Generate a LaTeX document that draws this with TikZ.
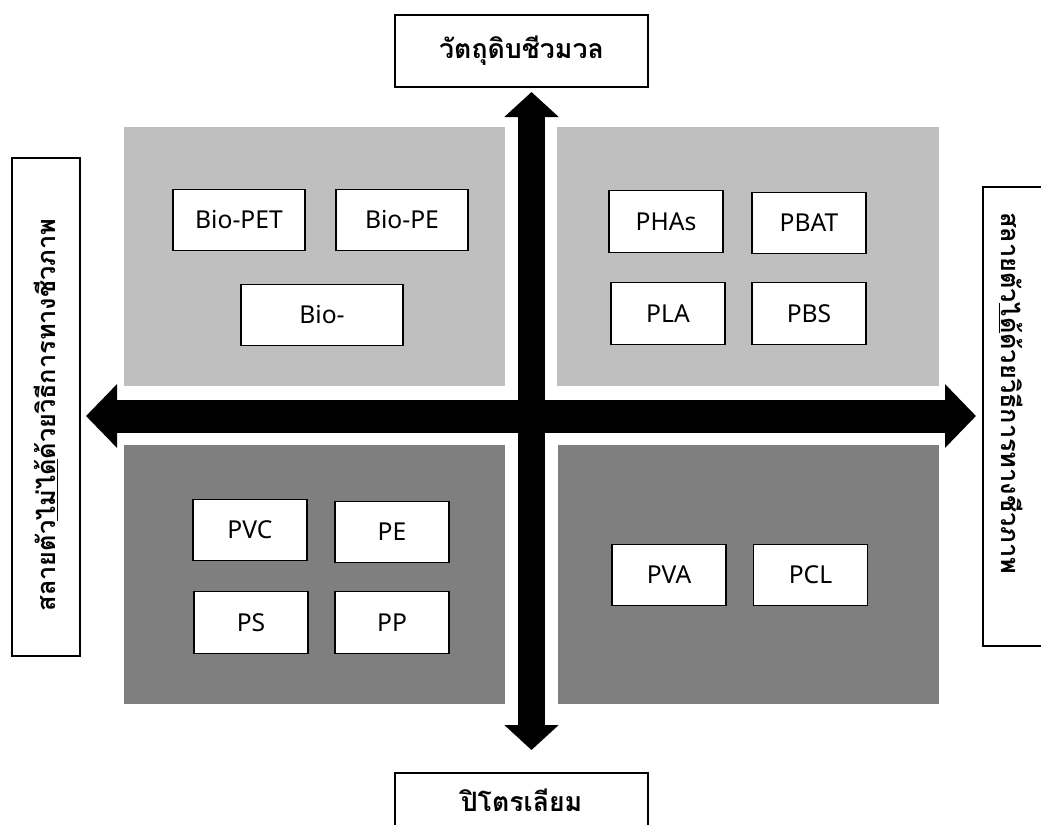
\documentclass[tikz,border=0pt]{standalone}
\usepackage{fontspec}
\setmainfont{Noto Sans}
\newfontfamily\thaifont[Script=Thai]{Loma}
\usetikzlibrary{arrows.meta}

\definecolor{quadlight}{RGB}{191,191,191}
\definecolor{quaddark}{RGB}{127,127,127}

\tikzset{
  polybox/.style={draw=black, line width=0.9pt, fill=white, inner sep=0pt,
    minimum width=85.5pt, minimum height=46pt,
    font=\fontsize{18.5}{20}\selectfont},
  framebox/.style={draw=black, line width=0.9pt, fill=white, inner sep=0pt},
  framepath/.style={draw=black, line width=0.9pt},
  thailabel/.style={inner sep=0pt, font=\thaifont\bfseries\fontsize{20}{24}\selectfont},
  sidelabel/.style={inner sep=0pt, font=\thaifont\bfseries\fontsize{19}{24}\selectfont},
  vbar/.style={line width=20.25pt,
    arrows={Triangle[length=18.75pt,width=39.75pt]-Triangle[length=18.75pt,width=39.75pt]}},
  hbar/.style={line width=24.75pt,
    arrows={Triangle[length=23.25pt,width=46.5pt]-Triangle[length=23.25pt,width=46.5pt]}},
}

\begin{document}
\begin{tikzpicture}[x=0.75pt,y=-0.75pt]
\useasboundingbox (0,0) rectangle (1041,824);
\clip (0,0) rectangle (1041,824);

% quadrant backgrounds
\fill[quadlight] (124,127) rectangle (505,386);
\fill[quadlight] (557,127) rectangle (939,386);
\fill[quaddark]  (124,445) rectangle (505,704);
\fill[quaddark]  (558,445) rectangle (939,704);

% axis arrows
\coordinate (vtop) at (531.5,92);
\coordinate (vbot) at (531.5,750);
\coordinate (hleft) at (86,416);
\coordinate (hright) at (976,416);
\draw[vbar] (vtop) -- (vbot);
\draw[hbar] (hleft) -- (hright);

% axis labels
\node[framebox, thailabel, minimum width=189.75pt, minimum height=54pt] (biomass) at (521.5,51)
  {วัตถุดิบชีวมวล};

% petroleum label: its frame runs off the lower edge
\coordinate (petroTL) at (395,773);
\coordinate (petroTR) at (648,773);
\coordinate (petroBL) at (395,830);
\coordinate (petroBR) at (648,830);
\filldraw[framepath, fill=white] (petroBL) -- (petroTL) -- (petroTR) -- (petroBR);
\node[thailabel] (petro) at (521.5,800) {ปิโตรเลียม};

\node[framebox, minimum width=51pt, minimum height=373.5pt] (nonbioframe) at (46,407) {};
\node[sidelabel, rotate=90] (nonbio) at (46,415)
  {สลายตัว\underline{ไม่ได้}ด้วยวิธีการทางชีวภาพ};

\node[framebox, minimum width=55.5pt, minimum height=344.25pt] (bioframe) at (1020,416.5) {};
\node[sidelabel, rotate=-90, anchor=west] (biodeg) at (1011,212)
  {สลายตัว\underline{ได้}ด้วยวิธีการทางชีวภาพ};

% polymers: bio-based, non-biodegradable
\node[polybox, minimum width=99pt] (biopet) at (239,220) {Bio-PET};
\node[polybox, minimum width=99pt] (biope) at (402,220) {Bio-PE};
\node[polybox, minimum width=121.5pt] (bio) at (322,315) {Bio-};

% polymers: bio-based, biodegradable
\node[polybox] (phas) at (666,221.5) {PHAs};
\node[polybox] (pbat) at (809,223) {PBAT};
\node[polybox] (pla) at (668,313.5) {PLA};
\node[polybox] (pbs) at (809,313.5) {PBS};

% polymers: petroleum-based, non-biodegradable
\node[polybox] (pvc) at (250,530) {PVC};
\node[polybox] (pe) at (392,532) {PE};
\node[polybox] (ps) at (251,622.5) {PS};
\node[polybox] (pp) at (392,622.5) {PP};

% polymers: petroleum-based, biodegradable
\node[polybox] (pva) at (669,575) {PVA};
\node[polybox] (pcl) at (810.5,575) {PCL};
\end{tikzpicture}
\end{document}
